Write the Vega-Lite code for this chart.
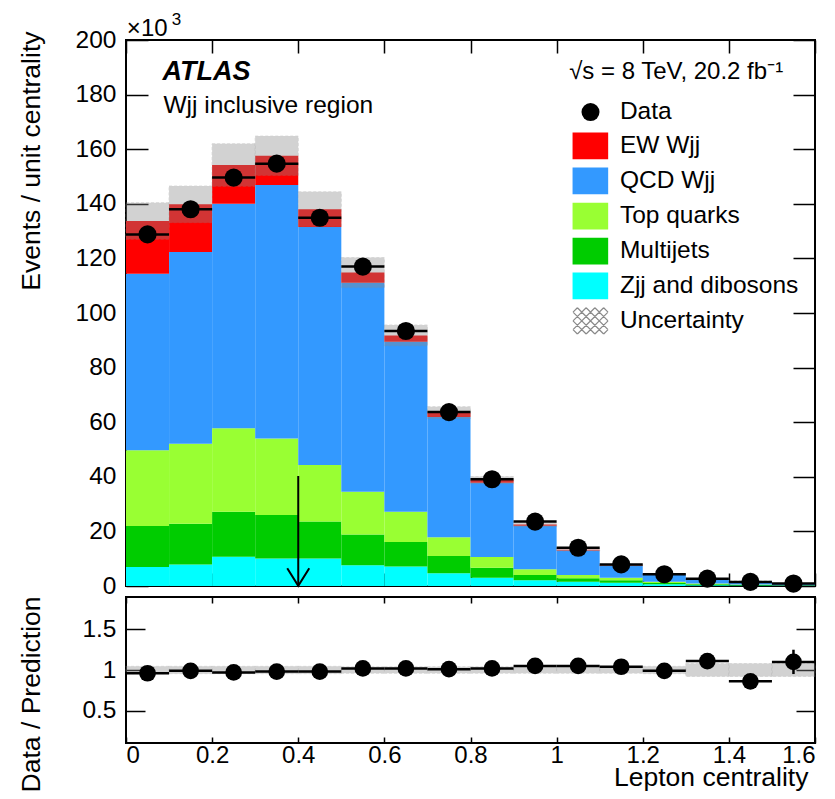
{
  "$schema": "https://vega.github.io/schema/vega-lite/v6.json",
  "padding": {"left": 16, "top": 9, "right": 0, "bottom": 0},
  "spacing": 11,
  "bounds": "flush",
  "background": "white",
  "config": {
    "font": "Liberation Sans",
    "view": {"stroke": "black", "strokeWidth": 2},
    "axis": {"domain": false, "grid": false, "tickColor": "black", "tickWidth": 1.5, "labelColor": "black", "titleColor": "black", "titleFontWeight": "normal", "labelFont": "Liberation Sans", "titleFont": "Liberation Sans"}
  },
  "datasets": {
    "bins": [
      {"lo": 0.0, "hi": 0.1, "c": 0.05, "Zjj and dibosons": 7.0, "Multijets": 15.0, "Top quarks": 27.7, "QCD Wjj": 64.7, "EW Wjj": 19.3, "data": 128.8, "blo": 127.0, "bhi": 140.4, "ratio": 0.96, "rlo": 0.953, "rhi": 0.967, "rblo": 0.955, "rbhi": 1.045},
      {"lo": 0.1, "hi": 0.2, "c": 0.15, "Zjj and dibosons": 7.9, "Multijets": 14.9, "Top quarks": 29.3, "QCD Wjj": 70.2, "EW Wjj": 17.5, "data": 138.0, "blo": 133.1, "bhi": 146.5, "ratio": 0.99, "rlo": 0.983, "rhi": 0.997, "rblo": 0.955, "rbhi": 1.045},
      {"lo": 0.2, "hi": 0.3, "c": 0.25, "Zjj and dibosons": 10.7, "Multijets": 16.5, "Top quarks": 30.6, "QCD Wjj": 82.2, "EW Wjj": 14.2, "data": 149.6, "blo": 146.4, "bhi": 162.0, "ratio": 0.97, "rlo": 0.963, "rhi": 0.977, "rblo": 0.955, "rbhi": 1.045},
      {"lo": 0.3, "hi": 0.4, "c": 0.35, "Zjj and dibosons": 10.1, "Multijets": 15.9, "Top quarks": 28.0, "QCD Wjj": 92.9, "EW Wjj": 10.7, "data": 154.7, "blo": 150.4, "bhi": 164.8, "ratio": 0.98, "rlo": 0.973, "rhi": 0.987, "rblo": 0.955, "rbhi": 1.045},
      {"lo": 0.4, "hi": 0.5, "c": 0.45, "Zjj and dibosons": 10.1, "Multijets": 13.5, "Top quarks": 20.7, "QCD Wjj": 87.2, "EW Wjj": 6.5, "data": 134.9, "blo": 131.6, "bhi": 144.4, "ratio": 0.98, "rlo": 0.973, "rhi": 0.987, "rblo": 0.955, "rbhi": 1.045},
      {"lo": 0.5, "hi": 0.6, "c": 0.55, "Zjj and dibosons": 7.6, "Multijets": 11.3, "Top quarks": 15.6, "QCD Wjj": 76.6, "EW Wjj": 3.7, "data": 117.0, "blo": 109.3, "bhi": 120.3, "ratio": 1.02, "rlo": 1.013, "rhi": 1.027, "rblo": 0.96, "rbhi": 1.04},
      {"lo": 0.6, "hi": 0.7, "c": 0.65, "Zjj and dibosons": 7.1, "Multijets": 9.0, "Top quarks": 11.1, "QCD Wjj": 62.3, "EW Wjj": 2.3, "data": 93.4, "blo": 88.0, "bhi": 95.6, "ratio": 1.02, "rlo": 1.013, "rhi": 1.027, "rblo": 0.96, "rbhi": 1.04},
      {"lo": 0.7, "hi": 0.8, "c": 0.75, "Zjj and dibosons": 4.7, "Multijets": 6.3, "Top quarks": 6.9, "QCD Wjj": 44.0, "EW Wjj": 1.6, "data": 63.7, "blo": 61.3, "bhi": 65.7, "ratio": 1.01, "rlo": 1.002, "rhi": 1.018, "rblo": 0.96, "rbhi": 1.04},
      {"lo": 0.8, "hi": 0.9, "c": 0.85, "Zjj and dibosons": 3.0, "Multijets": 3.7, "Top quarks": 3.9, "QCD Wjj": 27.2, "EW Wjj": 1.0, "data": 39.1, "blo": 37.5, "bhi": 40.1, "ratio": 1.02, "rlo": 1.01, "rhi": 1.03, "rblo": 0.96, "rbhi": 1.04},
      {"lo": 0.9, "hi": 1.0, "c": 0.95, "Zjj and dibosons": 2.1, "Multijets": 1.9, "Top quarks": 2.1, "QCD Wjj": 16.0, "EW Wjj": 0.4, "data": 23.6, "blo": 21.7, "bhi": 23.3, "ratio": 1.05, "rlo": 1.037, "rhi": 1.063, "rblo": 0.96, "rbhi": 1.04},
      {"lo": 1.0, "hi": 1.1, "c": 1.05, "Zjj and dibosons": 1.6, "Multijets": 1.2, "Top quarks": 1.2, "QCD Wjj": 9.0, "EW Wjj": 0.3, "data": 14.0, "blo": 12.8, "bhi": 13.8, "ratio": 1.05, "rlo": 1.035, "rhi": 1.065, "rblo": 0.96, "rbhi": 1.04},
      {"lo": 1.1, "hi": 1.2, "c": 1.15, "Zjj and dibosons": 1.2, "Multijets": 0.9, "Top quarks": 0.9, "QCD Wjj": 4.4, "EW Wjj": 0.2, "data": 7.9, "blo": 7.3, "bhi": 7.9, "ratio": 1.04, "rlo": 1.02, "rhi": 1.06, "rblo": 0.96, "rbhi": 1.04},
      {"lo": 1.2, "hi": 1.3, "c": 1.25, "Zjj and dibosons": 0.6, "Multijets": 0.5, "Top quarks": 0.5, "QCD Wjj": 2.6, "EW Wjj": 0.1, "data": 4.3, "blo": 4.1, "bhi": 4.5, "ratio": 0.99, "rlo": 0.965, "rhi": 1.015, "rblo": 0.955, "rbhi": 1.045},
      {"lo": 1.3, "hi": 1.4, "c": 1.35, "Zjj and dibosons": 0.3, "Multijets": 0.3, "Top quarks": 0.3, "QCD Wjj": 1.45, "EW Wjj": 0.05, "data": 2.7, "blo": 2.25, "bhi": 2.55, "ratio": 1.11, "rlo": 1.08, "rhi": 1.14, "rblo": 0.92, "rbhi": 1.08},
      {"lo": 1.4, "hi": 1.5, "c": 1.45, "Zjj and dibosons": 0.2, "Multijets": 0.15, "Top quarks": 0.2, "QCD Wjj": 1.15, "EW Wjj": 0.05, "data": 1.5, "blo": 1.63, "bhi": 1.87, "ratio": 0.86, "rlo": 0.83, "rhi": 0.89, "rblo": 0.92, "rbhi": 1.08},
      {"lo": 1.5, "hi": 1.6, "c": 1.55, "Zjj and dibosons": 0.1, "Multijets": 0.08, "Top quarks": 0.1, "QCD Wjj": 0.5, "EW Wjj": 0.04, "data": 0.9, "blo": 0.75, "bhi": 0.89, "ratio": 1.10, "rlo": 0.95, "rhi": 1.25, "rblo": 0.92, "rbhi": 1.08}
    ]
  },
  "vconcat": [
    {
      "width": 689,
      "height": 546,
      "data": {"name": "bins"},
      "resolve": {"axis": {"x": "independent", "y": "independent"}},
      "layer": [
        {
          "transform": [
            {"fold": ["Zjj and dibosons", "Multijets", "Top quarks", "QCD Wjj", "EW Wjj"], "as": ["process", "value"]},
            {"stack": "value", "groupby": ["lo"], "as": ["v0", "v1"]}
          ],
          "mark": {"type": "rect", "strokeWidth": 0},
          "encoding": {
            "x": {"field": "lo", "type": "quantitative", "scale": {"domain": [0, 1.6], "nice": false, "zero": false},
              "axis": {"orient": "bottom", "values": [0, 0.2, 0.4, 0.6, 0.8, 1.0, 1.2, 1.4, 1.6], "labels": false, "tickSize": -13, "title": null}},
            "x2": {"field": "hi"},
            "y": {"field": "v1", "type": "quantitative", "scale": {"domain": [0, 200], "nice": false, "zero": false},
              "axis": {"orient": "left", "values": [0, 20, 40, 60, 80, 100, 120, 140, 160, 180, 200], "tickSize": -22, "labelPadding": 32, "labelFontSize": 24.5,
                "title": "Events / unit centrality", "titleFontSize": 26.5, "titleAngle": -90, "titleAlign": "right", "titleBaseline": "alphabetic", "titleX": -87, "titleY": -9}},
            "y2": {"field": "v0"},
            "color": {"field": "process", "type": "nominal",
              "scale": {"domain": ["EW Wjj", "QCD Wjj", "Top quarks", "Multijets", "Zjj and dibosons"],
                        "range": ["#ff0000", "#3399ff", "#99ff33", "#00cc00", "#00ffff"]},
              "legend": null}
          }
        },
        {
          "mark": {"type": "rect", "fill": "#8a8a8a", "opacity": 0.38, "stroke": "#8a8a8a", "strokeWidth": 0.8, "strokeDash": [3, 2]},
          "encoding": {
            "x": {"field": "lo", "type": "quantitative", "scale": {"domain": [0, 1.6], "nice": false, "zero": false},
              "axis": {"orient": "top", "values": [0, 0.2, 0.4, 0.6, 0.8, 1.0, 1.2, 1.4, 1.6], "labels": false, "tickSize": -13, "title": null}},
            "x2": {"field": "hi"},
            "y": {"field": "blo", "type": "quantitative", "scale": {"domain": [0, 200], "nice": false, "zero": false},
              "axis": {"orient": "right", "values": [0, 20, 40, 60, 80, 100, 120, 140, 160, 180, 200], "labels": false, "tickSize": -22, "title": null}},
            "y2": {"field": "bhi"}
          }
        },
        {
          "mark": {"type": "rule", "color": "black", "strokeWidth": 2.5},
          "encoding": {
            "x": {"field": "lo", "type": "quantitative", "scale": {"domain": [0, 1.6], "nice": false, "zero": false}, "axis": null},
            "x2": {"field": "hi"},
            "y": {"field": "data", "type": "quantitative", "scale": {"domain": [0, 200], "nice": false, "zero": false}, "axis": null}
          }
        },
        {
          "mark": {"type": "point", "filled": true, "color": "black", "opacity": 1, "size": 330},
          "encoding": {
            "x": {"field": "c", "type": "quantitative", "scale": {"domain": [0, 1.6], "nice": false, "zero": false}, "axis": null},
            "y": {"field": "data", "type": "quantitative", "scale": {"domain": [0, 200], "nice": false, "zero": false}, "axis": null}
          }
        },
        {
          "data": {"values": [{"label": "arrow"}]},
          "mark": {"type": "rule", "color": "black", "strokeWidth": 2},
          "encoding": {
            "x": {"datum": 0.4, "type": "quantitative", "scale": {"domain": [0, 1.6], "nice": false, "zero": false}, "axis": null},
            "y": {"datum": 40.3, "type": "quantitative", "scale": {"domain": [0, 200], "nice": false, "zero": false}, "axis": null},
            "y2": {"datum": 0.3}
          }
        },
        {
          "data": {"values": [{"label": "arrowhead"}]},
          "mark": {"type": "point", "shape": "M-1,-0.8L0,0.8L1,-0.8", "filled": false, "stroke": "black", "strokeWidth": 2, "opacity": 1, "size": 484},
          "encoding": {
            "x": {"datum": 0.4, "type": "quantitative", "scale": {"domain": [0, 1.6], "nice": false, "zero": false}, "axis": null},
            "y": {"datum": 3.3, "type": "quantitative", "scale": {"domain": [0, 200], "nice": false, "zero": false}, "axis": null}
          }
        },
        {
          "data": {"values": [{"t": "ATLAS"}]},
          "mark": {"type": "text", "font": "Liberation Sans", "fontWeight": "bold", "fontStyle": "italic", "fontSize": 27, "align": "left", "baseline": "alphabetic", "color": "black"},
          "encoding": {
            "text": {"field": "t"},
            "x": {"datum": 0.085, "type": "quantitative", "scale": {"domain": [0, 1.6], "nice": false, "zero": false}, "axis": null},
            "y": {"datum": 185.3, "type": "quantitative", "scale": {"domain": [0, 200], "nice": false, "zero": false}, "axis": null}
          }
        },
        {
          "data": {"values": [{"t": "Wjj inclusive region"}]},
          "mark": {"type": "text", "font": "Liberation Sans", "fontSize": 24.5, "align": "left", "baseline": "alphabetic", "color": "black"},
          "encoding": {
            "text": {"field": "t"},
            "x": {"datum": 0.087, "type": "quantitative", "scale": {"domain": [0, 1.6], "nice": false, "zero": false}, "axis": null},
            "y": {"datum": 173.4, "type": "quantitative", "scale": {"domain": [0, 200], "nice": false, "zero": false}, "axis": null}
          }
        },
        {
          "data": {"values": [{"t": "√s = 8 TeV, 20.2 fb⁻¹"}]},
          "mark": {"type": "text", "font": "Liberation Sans", "fontSize": 24, "align": "right", "baseline": "alphabetic", "color": "black"},
          "encoding": {
            "text": {"field": "t"},
            "x": {"datum": 1.526, "type": "quantitative", "scale": {"domain": [0, 1.6], "nice": false, "zero": false}, "axis": null},
            "y": {"datum": 185.7, "type": "quantitative", "scale": {"domain": [0, 200], "nice": false, "zero": false}, "axis": null}
          }
        },
        {
          "data": {"values": [{"t": "×10"}]},
          "mark": {"type": "text", "font": "Liberation Sans", "fontSize": 24, "align": "left", "baseline": "alphabetic", "color": "black"},
          "encoding": {
            "text": {"field": "t"},
            "x": {"datum": 0.002, "type": "quantitative", "scale": {"domain": [0, 1.6], "nice": false, "zero": false}, "axis": null},
            "y": {"datum": 201.5, "type": "quantitative", "scale": {"domain": [0, 200], "nice": false, "zero": false}, "axis": null}
          }
        },
        {
          "data": {"values": [{"t": "3"}]},
          "mark": {"type": "text", "font": "Liberation Sans", "fontSize": 17, "align": "left", "baseline": "alphabetic", "color": "black"},
          "encoding": {
            "text": {"field": "t"},
            "x": {"datum": 0.106, "type": "quantitative", "scale": {"domain": [0, 1.6], "nice": false, "zero": false}, "axis": null},
            "y": {"datum": 205.5, "type": "quantitative", "scale": {"domain": [0, 200], "nice": false, "zero": false}, "axis": null}
          }
        },
        {
          "data": {"values": [{"entry": "Data"}]},
          "mark": {"type": "point", "filled": true, "color": "black", "opacity": 1, "size": 324},
          "encoding": {
            "x": {"datum": 1.0787, "type": "quantitative", "scale": {"domain": [0, 1.6], "nice": false, "zero": false}, "axis": null},
            "y": {"datum": 173.6, "type": "quantitative", "scale": {"domain": [0, 200], "nice": false, "zero": false}, "axis": null}
          }
        },
        {
          "data": {"values": [{"entry": "EW Wjj"}]},
          "mark": {"type": "rect", "color": "#ff0000"},
          "encoding": {
            "x": {"datum": 1.037, "type": "quantitative", "scale": {"domain": [0, 1.6], "nice": false, "zero": false}, "axis": null},
            "x2": {"datum": 1.1197},
            "y": {"datum": 156.3, "type": "quantitative", "scale": {"domain": [0, 200], "nice": false, "zero": false}, "axis": null},
            "y2": {"datum": 166.1}
          }
        },
        {
          "data": {"values": [{"entry": "QCD Wjj"}]},
          "mark": {"type": "rect", "color": "#3399ff"},
          "encoding": {
            "x": {"datum": 1.037, "type": "quantitative", "scale": {"domain": [0, 1.6], "nice": false, "zero": false}, "axis": null},
            "x2": {"datum": 1.1197},
            "y": {"datum": 143.5, "type": "quantitative", "scale": {"domain": [0, 200], "nice": false, "zero": false}, "axis": null},
            "y2": {"datum": 153.3}
          }
        },
        {
          "data": {"values": [{"entry": "Top quarks"}]},
          "mark": {"type": "rect", "color": "#99ff33"},
          "encoding": {
            "x": {"datum": 1.037, "type": "quantitative", "scale": {"domain": [0, 1.6], "nice": false, "zero": false}, "axis": null},
            "x2": {"datum": 1.1197},
            "y": {"datum": 130.6, "type": "quantitative", "scale": {"domain": [0, 200], "nice": false, "zero": false}, "axis": null},
            "y2": {"datum": 140.4}
          }
        },
        {
          "data": {"values": [{"entry": "Multijets"}]},
          "mark": {"type": "rect", "color": "#00cc00"},
          "encoding": {
            "x": {"datum": 1.037, "type": "quantitative", "scale": {"domain": [0, 1.6], "nice": false, "zero": false}, "axis": null},
            "x2": {"datum": 1.1197},
            "y": {"datum": 117.8, "type": "quantitative", "scale": {"domain": [0, 200], "nice": false, "zero": false}, "axis": null},
            "y2": {"datum": 127.6}
          }
        },
        {
          "data": {"values": [{"entry": "Zjj and dibosons"}]},
          "mark": {"type": "rect", "color": "#00ffff"},
          "encoding": {
            "x": {"datum": 1.037, "type": "quantitative", "scale": {"domain": [0, 1.6], "nice": false, "zero": false}, "axis": null},
            "x2": {"datum": 1.1197},
            "y": {"datum": 105.0, "type": "quantitative", "scale": {"domain": [0, 200], "nice": false, "zero": false}, "axis": null},
            "y2": {"datum": 114.8}
          }
        },
        {
          "data": {"values": [{"entry": "Uncertainty"}]},
          "mark": {"type": "point", "shape": "M-0.75,-0.75L0.75,0.75M-1,-0.5L0.25,0.75M-1,0L-0.25,0.75M-1,0.5L-0.75,0.75M-0.25,-0.75L1,0.5M0.25,-0.75L1,0M0.75,-0.75L1,-0.5M-0.75,0.75L0.75,-0.75M-0.25,0.75L1,-0.5M0.25,0.75L1,0M0.75,0.75L1,0.5M-1,0.5L0.25,-0.75M-1,0L-0.25,-0.75M-1,-0.5L-0.75,-0.75", "filled": false, "stroke": "#8a8a8a", "strokeWidth": 1.2, "opacity": 1, "size": 1225},
          "encoding": {
            "x": {"datum": 1.0787, "type": "quantitative", "scale": {"domain": [0, 1.6], "nice": false, "zero": false}, "axis": null},
            "y": {"datum": 97.1, "type": "quantitative", "scale": {"domain": [0, 200], "nice": false, "zero": false}, "axis": null}
          }
        },
        {
          "data": {"values": [
            {"entry": "Data", "k": 173.6},
            {"entry": "EW Wjj", "k": 161.2},
            {"entry": "QCD Wjj", "k": 148.4},
            {"entry": "Top quarks", "k": 135.5},
            {"entry": "Multijets", "k": 122.7},
            {"entry": "Zjj and dibosons", "k": 109.9},
            {"entry": "Uncertainty", "k": 97.1}
          ]},
          "mark": {"type": "text", "font": "Liberation Sans", "fontSize": 24.5, "align": "left", "baseline": "middle", "color": "black"},
          "encoding": {
            "text": {"field": "entry"},
            "x": {"datum": 1.147, "type": "quantitative", "scale": {"domain": [0, 1.6], "nice": false, "zero": false}, "axis": null},
            "y": {"field": "k", "type": "quantitative", "scale": {"domain": [0, 200], "nice": false, "zero": false}, "axis": null}
          }
        }
      ]
    },
    {
      "width": 689,
      "height": 146,
      "data": {"name": "bins"},
      "resolve": {"axis": {"x": "independent", "y": "independent"}},
      "layer": [
        {
          "mark": {"type": "rect", "fill": "#8a8a8a", "opacity": 0.38, "stroke": "#8a8a8a", "strokeWidth": 0.8, "strokeDash": [3, 2]},
          "encoding": {
            "x": {"field": "lo", "type": "quantitative", "scale": {"domain": [0, 1.6], "nice": false, "zero": false},
              "axis": {"orient": "bottom", "values": [0, 0.2, 0.4, 0.6, 0.8, 1.0, 1.2, 1.4, 1.6], "format": "~g", "tickSize": -6, "labelPadding": 6, "labelFontSize": 24,
                "title": "Lepton centrality", "titleFontSize": 26.5, "titleAlign": "right", "titleBaseline": "alphabetic", "titleX": 682, "titleY": 42}},
            "x2": {"field": "hi"},
            "y": {"field": "rblo", "type": "quantitative", "scale": {"domain": [0.1, 1.9], "nice": false, "zero": false},
              "axis": {"orient": "left", "values": [0.5, 1, 1.5], "format": "~g", "tickSize": -19, "labelPadding": 29, "labelFontSize": 24.5,
                "title": "Data / Prediction", "titleFontSize": 26.5, "titleAngle": -90, "titleAlign": "right", "titleBaseline": "alphabetic", "titleX": -87, "titleY": -1}},
            "y2": {"field": "rbhi"}
          }
        },
        {
          "mark": {"type": "rule", "color": "black", "strokeWidth": 2.5},
          "encoding": {
            "x": {"field": "lo", "type": "quantitative", "scale": {"domain": [0, 1.6], "nice": false, "zero": false},
              "axis": {"orient": "top", "values": [0, 0.2, 0.4, 0.6, 0.8, 1.0, 1.2, 1.4, 1.6], "labels": false, "tickSize": -6, "title": null}},
            "x2": {"field": "hi"},
            "y": {"field": "ratio", "type": "quantitative", "scale": {"domain": [0.1, 1.9], "nice": false, "zero": false},
              "axis": {"orient": "right", "values": [0.5, 1, 1.5], "labels": false, "tickSize": -19, "title": null}}
          }
        },
        {
          "mark": {"type": "rule", "color": "black", "strokeWidth": 2.5},
          "encoding": {
            "x": {"field": "c", "type": "quantitative", "scale": {"domain": [0, 1.6], "nice": false, "zero": false}, "axis": null},
            "y": {"field": "rlo", "type": "quantitative", "scale": {"domain": [0.1, 1.9], "nice": false, "zero": false}, "axis": null},
            "y2": {"field": "rhi"}
          }
        },
        {
          "mark": {"type": "point", "filled": true, "color": "black", "opacity": 1, "size": 280},
          "encoding": {
            "x": {"field": "c", "type": "quantitative", "scale": {"domain": [0, 1.6], "nice": false, "zero": false}, "axis": null},
            "y": {"field": "ratio", "type": "quantitative", "scale": {"domain": [0.1, 1.9], "nice": false, "zero": false}, "axis": null}
          }
        }
      ]
    }
  ]
}
